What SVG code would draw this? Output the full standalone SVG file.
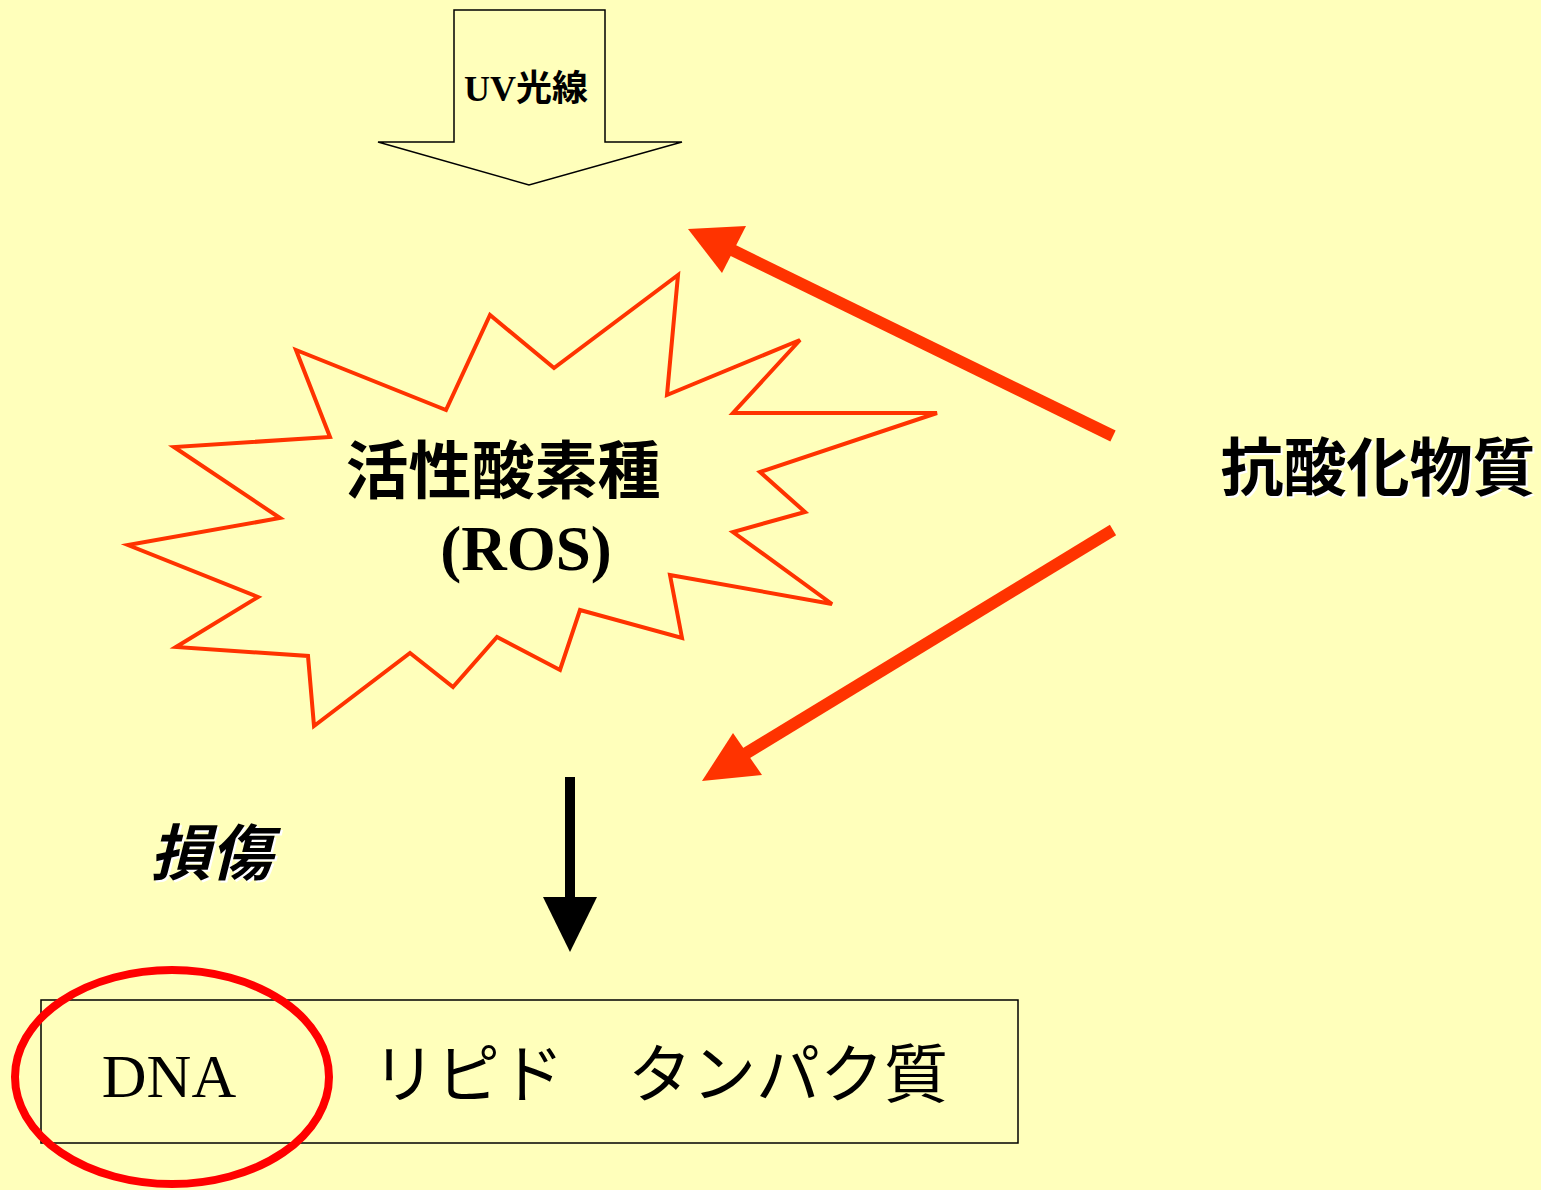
<svg xmlns="http://www.w3.org/2000/svg" width="1541" height="1190" viewBox="0 0 1541 1190">
<style>
.bg{fill:#FFFFBB}
.gothic{font-family:"Noto Sans CJK JP","Liberation Sans",sans-serif}
.serif{font-family:"Liberation Serif","Noto Sans CJK JP",serif}
.red{fill:#FF3300}
</style>
<rect class="bg" x="0" y="0" width="1541" height="1190"/>
<g id="uv">
<polygon points="454,10 605,10 605,142 682,142 529,185 378,142 454,142" fill="#FFFFBB" stroke="#000" stroke-width="1.5"/>
<text x="526" y="101" text-anchor="middle" font-weight="bold" font-size="36"><tspan class="serif">UV</tspan><tspan class="gothic">光線</tspan></text>
</g>
<g id="ros">
<polygon points="678,275 667,395 800,340 733,413 937,413 760,472 805,512 733,532 832,604 670,575 682,638 580,610 560,670 497,637 453,687 410,653 314,726 308,656 176,647 258,597 128,545 280,518 174,447 330,437 296,350 446,410 490,315 554,368" fill="#FFFFBB" stroke="#FF3300" stroke-width="4" stroke-linejoin="miter"/>
<text class="gothic" x="503" y="493" text-anchor="middle" font-weight="bold" font-size="63">活性酸素種</text>
<text class="serif" x="526" y="570" text-anchor="middle" font-weight="bold" font-size="63">(ROS)</text>
</g>
<g id="antioxidant">
<text class="gothic" x="1380" y="492" text-anchor="middle" font-weight="bold" font-size="63" fill="#fff">抗酸化物質</text>
<text class="gothic" x="1378" y="490" text-anchor="middle" font-weight="bold" font-size="63">抗酸化物質</text>
</g>
<g id="damage">
<text class="gothic" x="213" y="877" text-anchor="middle" font-weight="bold" font-style="italic" font-size="61" fill="#fff">損傷</text>
<text class="gothic" x="211" y="875" text-anchor="middle" font-weight="bold" font-style="italic" font-size="61">損傷</text>
</g>
<g id="targets">
<rect x="41" y="1000" width="977" height="143" fill="none" stroke="#000" stroke-width="1.5"/>
<text class="serif" x="169" y="1097" text-anchor="middle" font-size="62">DNA</text>
<text class="gothic" x="372" y="1097" font-size="64">リピド　タンパク質</text>
<ellipse cx="172" cy="1077" rx="157" ry="107" fill="none" stroke="#FF0000" stroke-width="8"/>
</g>
<g id="connectors">
<line x1="1113" y1="436" x2="728" y2="248" stroke="#FF3300" stroke-width="12"/>
<polygon class="red" points="688,229 746,226 722,273"/>
<line x1="1113" y1="530" x2="740" y2="757" stroke="#FF3300" stroke-width="12"/>
<polygon class="red" points="702,781 733,733 762,775"/>
<line x1="570" y1="777" x2="570" y2="900" stroke="#000" stroke-width="10"/>
<polygon points="543,897 597,897 570,952" fill="#000"/>
</g>
</svg>
